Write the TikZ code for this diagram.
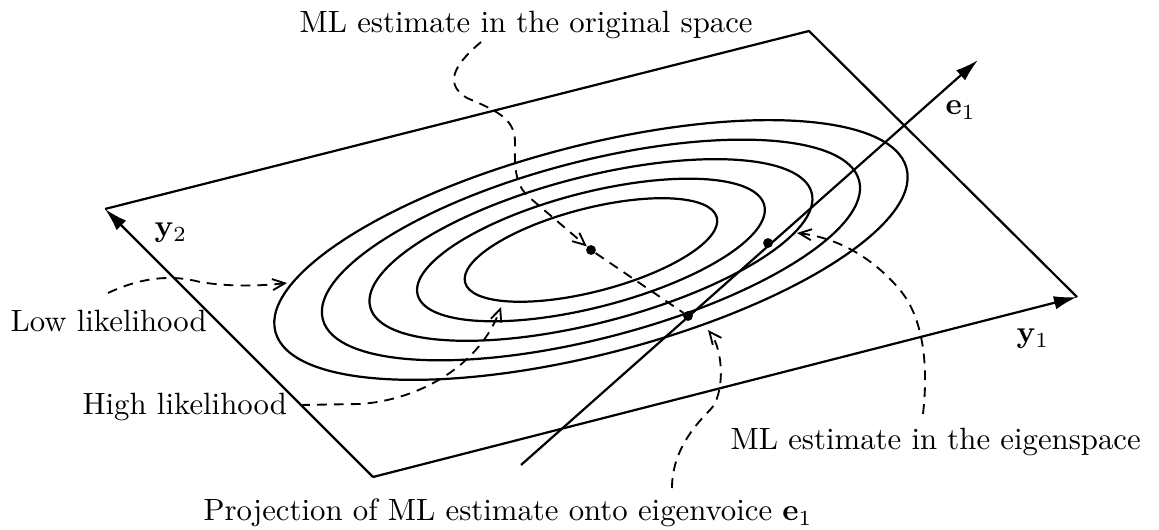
\documentclass[tikz,border=0pt]{standalone}
\usetikzlibrary{arrows.meta}
\begin{document}
\begin{tikzpicture}[x=0.325pt,y=-0.325pt,
  axis/.style={line width=0.72pt,-{Latex[length=7.5pt,width=4.4pt]}},
  edge/.style={line width=0.72pt},
  contour/.style={line width=0.72pt},
  lead/.style={line width=0.6pt,dash pattern=on 3.2pt off 2.3pt,-{Straight Barb[length=4pt,width=3.6pt]}},
  projline/.style={line width=0.6pt,dash pattern=on 3.2pt off 2.3pt},
  dot/.style={circle,fill,inner sep=0pt,minimum size=3.2pt},
  lbl/.style={inner sep=0pt,anchor=base west}]
\useasboundingbox (0,0) rectangle (1159,530);
% plane
\coordinate (L) at (105,209);
\coordinate (T) at (809,31);
\coordinate (R) at (1077,297);
\coordinate (B) at (373,477);
\draw[edge] (L) -- (T) -- (R);
\draw[axis] (B) -- (R);
\draw[axis] (B) -- (L);
% contours
\coordinate (C) at (591,250);
\foreach \a in {130,179,228,277,326}
  \draw[contour,rotate around={14.5:(C)}] (C) ellipse [x radius=\a, y radius=0.32*\a];
% eigenvoice axis
\coordinate (E0) at (521,465);
\coordinate (E1) at (978,60);
\draw[axis] (E0) -- (E1);
% dots
\node[dot] (mo) at (591,250) {};
\node[dot] (me) at (768,243) {};
\node[dot] (mp) at (688,316) {};
\draw[projline] (mo) -- (mp);
% labels
\node[lbl] (ty2) at (154,237) {$\mathbf{y}_2$};
\node[lbl] (ty1) at (1016,343) {$\mathbf{y}_1$};
\node[lbl] (te1) at (945,115) {$\mathbf{e}_1$};
\node[lbl] (torig) at (299,33) {ML estimate in the original space};
\node[lbl] (tlow) at (10,332) {Low likelihood};
\node[lbl] (thigh) at (82,415) {High likelihood};
\node[lbl] (teig) at (730,450) {ML estimate in the eigenspace};
\node[lbl] (tproj) at (203,521) {Projection of ML estimate onto eigenvoice $\mathbf{e}_1$};
% leader ends
\coordinate (s1) at (481,42);
\coordinate (s2) at (108,293);
\coordinate (t2) at (287,283);
\coordinate (s3) at (300,405);
\coordinate (t3) at (501,307);
\coordinate (s4) at (923,414);
\coordinate (t4) at (797,233);
\coordinate (s5) at (672,488);
\coordinate (t5) at (708,330);
% leaders
\draw[lead] (s1) .. controls (460,60) and (440,82) .. (467,98)
  .. controls (500,112) and (516,120) .. (515,145)
  .. controls (514,175) and (518,188) .. (530,198) -- (mo);
\draw[lead] (s2) .. controls (140,278) and (170,274) .. (200,282)
  .. controls (230,287) and (260,286) .. (t2);
\draw[lead] (s3) -- (360,404) .. controls (420,400) and (480,365) .. (t3);
\draw[lead] (s4) .. controls (928,370) and (925,320) .. (900,290)
  .. controls (875,260) and (840,238) .. (t4);
\draw[lead] (s5) .. controls (672,455) and (690,430) .. (710,410)
  .. controls (725,395) and (724,350) .. (t5);
\end{tikzpicture}
\end{document}
